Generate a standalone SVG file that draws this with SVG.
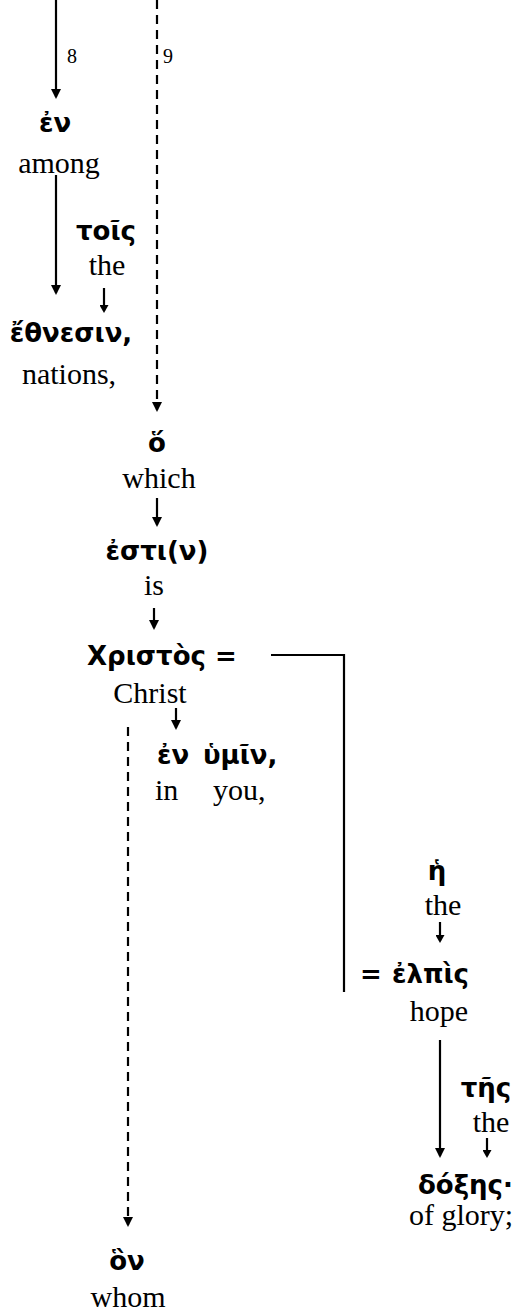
<svg xmlns="http://www.w3.org/2000/svg" width="523" height="1316" viewBox="0 0 523 1316">
<style>
.gk{font-family:"DejaVu Sans","Noto Sans",sans-serif;font-weight:bold;font-size:26px;fill:#000}
.en{font-family:"Liberation Serif","Times New Roman",serif;font-size:30px;fill:#000}
.vn{font-family:"Liberation Serif","Times New Roman",serif;font-size:20px;fill:#000}
.c{text-anchor:middle}
.ln{stroke:#000;stroke-width:2.2;fill:none}
.da{stroke-dasharray:9 6}
</style>
<defs>
<marker id="ah" viewBox="0 0 10 10" refX="8" refY="5" markerWidth="10" markerHeight="10" markerUnits="userSpaceOnUse" orient="auto">
<path d="M0,0 L10,5 L0,10 z" fill="#000"/>
</marker>
<marker id="as" viewBox="0 0 8 9" refX="6" refY="4.5" markerWidth="8" markerHeight="9" markerUnits="userSpaceOnUse" orient="auto">
<path d="M0,0 L8,4.5 L0,9 z" fill="#000"/>
</marker>
</defs>
<g id="connectors">
<line class="ln" x1="56" y1="0" x2="56" y2="97" marker-end="url(#ah)"/>
<line class="ln da" x1="157" y1="0" x2="157" y2="410" marker-end="url(#ah)"/>
<line class="ln" x1="56" y1="175" x2="56" y2="293" marker-end="url(#ah)"/>
<line class="ln" x1="104" y1="288" x2="104" y2="311" marker-end="url(#as)"/>
<line class="ln" x1="157" y1="498" x2="157" y2="525" marker-end="url(#ah)"/>
<line class="ln" x1="154" y1="608" x2="154" y2="628" marker-end="url(#ah)"/>
<polyline class="ln" points="271,655 344,655 344,992"/>
<line class="ln" x1="176" y1="708" x2="176" y2="728" marker-end="url(#ah)"/>
<line class="ln da" x1="128" y1="727" x2="128" y2="1225" marker-end="url(#ah)"/>
<line class="ln" x1="440" y1="922" x2="440" y2="941" marker-end="url(#as)"/>
<line class="ln" x1="440" y1="1040" x2="440" y2="1156" marker-end="url(#ah)"/>
<line class="ln" x1="487" y1="1138" x2="487" y2="1156" marker-end="url(#as)"/>
</g>
<g id="verse8"><text class="vn" x="67" y="63">8</text></g>
<g id="verse9"><text class="vn" x="163" y="63">9</text></g>
<g id="n-en1"><text class="gk c" x="55" y="132">ἐν</text><text class="en c" x="59" y="173">among</text></g>
<g id="n-tois"><text class="gk c" x="106" y="240">τοῖς</text><text class="en c" x="107" y="275">the</text></g>
<g id="n-ethnesin"><text class="gk c" x="71" y="342">ἔθνεσιν,</text><text class="en c" x="69" y="384">nations,</text></g>
<g id="n-ho"><text class="gk c" x="157" y="452">ὅ</text><text class="en c" x="159" y="488">which</text></g>
<g id="n-estin"><text class="gk c" x="157" y="560">ἐστι(ν)</text><text class="en c" x="154" y="595">is</text></g>
<g id="n-christos"><text class="gk" x="87" y="665">Χριστὸς =</text><text class="en c" x="150" y="703">Christ</text></g>
<g id="n-en2"><text class="gk" x="157" y="764">ἐν</text><text class="en" x="155" y="800">in</text></g>
<g id="n-hymin"><text class="gk" x="203" y="764">ὑμῖν,</text><text class="en" x="213" y="800">you,</text></g>
<g id="n-he"><text class="gk c" x="437" y="880">ἡ</text><text class="en c" x="443" y="915">the</text></g>
<g id="n-elpis"><text class="gk" x="360" y="983">=</text><text class="gk" x="392" y="983">ἐλπὶς</text><text class="en c" x="439" y="1021">hope</text></g>
<g id="n-tes"><text class="gk c" x="486" y="1097">τῆς</text><text class="en c" x="491" y="1132">the</text></g>
<g id="n-doxes"><text class="gk" x="418" y="1194">δόξης·</text><text class="en c" x="461" y="1225">of glory;</text></g>
<g id="n-hon"><text class="gk c" x="127" y="1270">ὃν</text><text class="en c" x="128" y="1307">whom</text></g>
</svg>
